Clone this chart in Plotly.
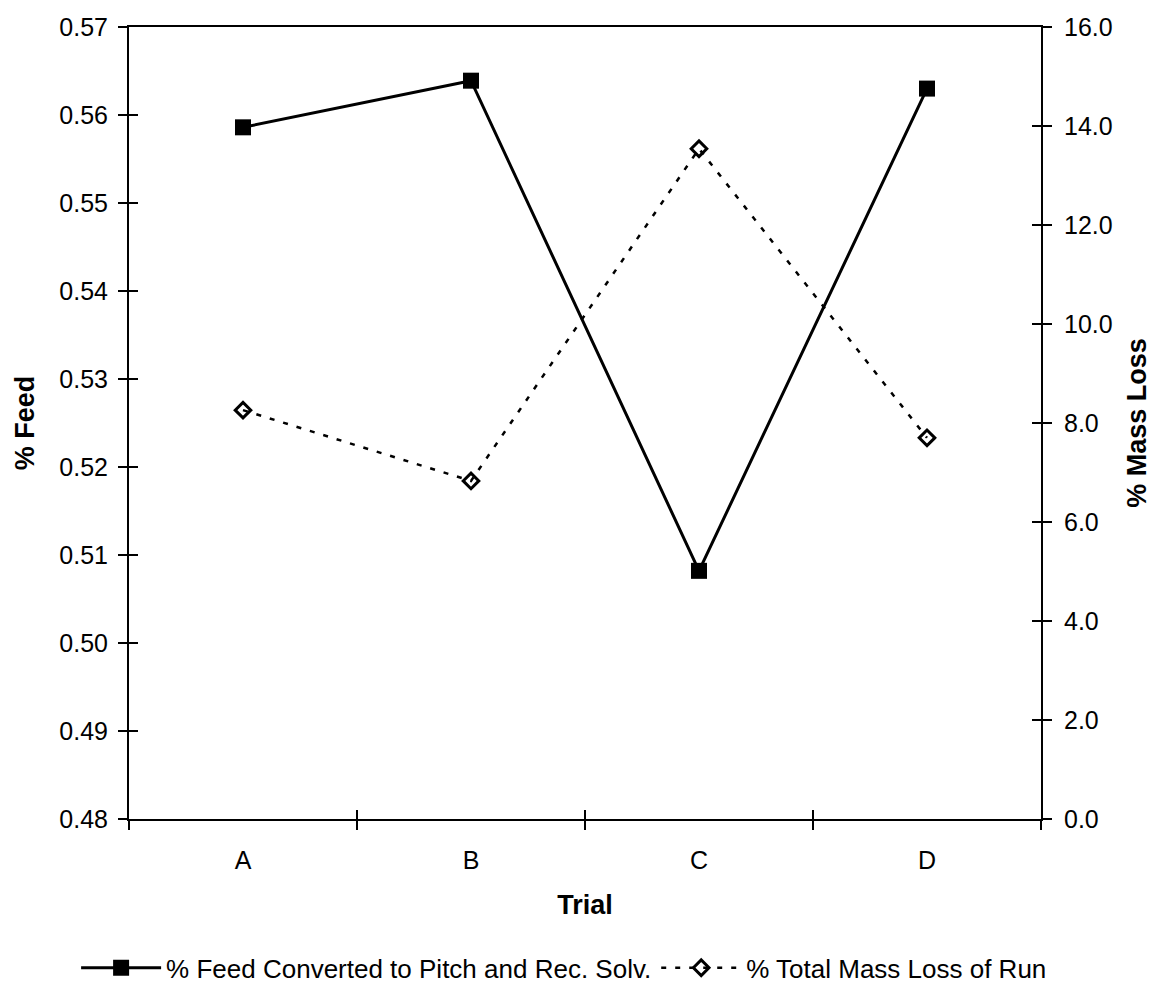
import plotly.graph_objects as go

# Trial data
trials = ["A", "B", "C", "D"]
feed_converted = [0.5586, 0.5639, 0.5082, 0.5630]   # % Feed (left axis)
mass_loss = [8.26, 6.83, 13.54, 7.70]               # % Mass Loss (right axis)

left_ticks = [0.48, 0.49, 0.50, 0.51, 0.52, 0.53, 0.54, 0.55, 0.56, 0.57]
right_ticks = [0, 2, 4, 6, 8, 10, 12, 14, 16]

FONT = "Liberation Sans, Arial, sans-serif"
TICK_SIZE = 25
TITLE_SIZE = 27

fig = go.Figure()

fig.add_trace(go.Scatter(
    x=trials, y=feed_converted,
    name="% Feed Converted to Pitch and Rec. Solv.",
    mode="lines+markers",
    line=dict(color="black", width=3),
    marker=dict(symbol="square", size=16, color="black"),
    yaxis="y",
))

fig.add_trace(go.Scatter(
    x=trials, y=mass_loss,
    name="% Total Mass Loss of Run",
    mode="lines+markers",
    line=dict(color="black", width=2.5, dash="5px,9px"),
    marker=dict(symbol="diamond-open", size=12, color="black",
                line=dict(width=3, color="black")),
    yaxis="y2",
))

# empty traces so the inner-tick overlay axes get drawn
for xa, ya in (("x2", "y"), ("x", "y3"), ("x", "y4")):
    fig.add_trace(go.Scatter(x=[], y=[], xaxis=xa, yaxis=ya,
                             showlegend=False, hoverinfo="skip"))

yl_range = [left_ticks[0], left_ticks[-1]]
yr_range = [right_ticks[0], right_ticks[-1]]
tick_style = dict(ticklen=9, tickwidth=1.5, tickcolor="black",
                  showgrid=False, zeroline=False, automargin=False)

fig.update_layout(
    width=1153, height=988,
    margin=dict(l=129, r=112, t=27, b=169, autoexpand=False),
    paper_bgcolor="white", plot_bgcolor="white",
    font=dict(family=FONT, size=TICK_SIZE, color="black"),
    showlegend=True,
    legend=dict(orientation="h", xref="paper", x=-0.058, xanchor="left",
                yref="paper", y=-0.188, yanchor="middle",
                font=dict(size=26), itemwidth=80, tracegroupgap=0),
    xaxis=dict(
        type="category", categoryarray=trials, range=[-0.5, 3.5],
        showline=True, linecolor="black", linewidth=2, mirror=True,
        ticks="outside", tickson="boundaries", ticklabelstandoff=18,
        tickfont=dict(size=TICK_SIZE),
        title=dict(text="<b>Trial</b>", font=dict(size=TITLE_SIZE), standoff=22),
        **tick_style,
    ),
    xaxis2=dict(
        overlaying="x", anchor="y", range=[-0.5, 3.5],
        tickvals=[-0.5, 0.5, 1.5, 2.5, 3.5], ticks="inside",
        showticklabels=False, showline=False, **tick_style,
    ),
    yaxis=dict(
        range=yl_range, tickvals=left_ticks, tickformat=".2f",
        showline=True, linecolor="black", linewidth=2,
        ticks="outside", ticklabelstandoff=5, tickfont=dict(size=TICK_SIZE),
        title=dict(text="<b>% Feed</b>", font=dict(size=TITLE_SIZE), standoff=17),
        **tick_style,
    ),
    yaxis2=dict(
        range=yr_range, tickvals=right_ticks, tickformat=".1f",
        overlaying="y", side="right", anchor="x",
        showline=True, linecolor="black", linewidth=2,
        ticks="outside", ticklabelstandoff=7, tickfont=dict(size=TICK_SIZE),
        title=dict(text="<b>% Mass Loss</b>", font=dict(size=TITLE_SIZE), standoff=15),
        **tick_style,
    ),
    yaxis3=dict(
        range=yl_range, tickvals=left_ticks, overlaying="y", side="left",
        anchor="x", ticks="inside", showticklabels=False, showline=False,
        **tick_style,
    ),
    yaxis4=dict(
        range=yr_range, tickvals=right_ticks, overlaying="y", side="right",
        anchor="x", ticks="inside", showticklabels=False, showline=False,
        **tick_style,
    ),
)

fig.write_html("out.html")
